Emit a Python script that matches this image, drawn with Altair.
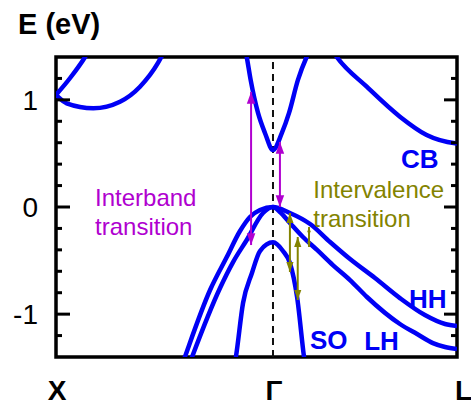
import altair as alt
import pandas as pd

# Band structure along X - Γ - L.  k in units of 2π/a (X = -1, Γ = 0, L = 0.848), E in eV.
cb_k = [-0.138, -0.121, -0.103, -0.069, -0.037, 0.0, 0.041, 0.074, 0.115, 0.155, 0.226, 0.294, 0.432, 0.585, 0.708, 0.839, 0.848]
cb_e = [1.56, 1.40, 1.186, 0.878, 0.691, 0.532, 0.691, 0.878, 1.186, 1.40, 1.62, 1.40, 1.123, 0.843, 0.672, 0.595, 0.593]

xv_up_k = [-1.0, -0.935, -0.866, -0.834]
xv_up_e = [1.046, 1.204, 1.40, 1.51]
xv_lo_k = [-1.0, -0.951, -0.828, -0.705, -0.613, -0.530, -0.498]
xv_lo_e = [1.046, 0.968, 0.922, 0.983, 1.123, 1.345, 1.466]

hh_k = [-0.424, -0.406, -0.290, -0.213, -0.152, -0.106, -0.060, 0.0, 0.078, 0.171, 0.263, 0.355, 0.470, 0.585, 0.700, 0.793, 0.848]
hh_e = [-1.503, -1.40, -0.775, -0.467, -0.224, -0.093, -0.028, 0.0, -0.056, -0.159, -0.327, -0.486, -0.663, -0.850, -1.008, -1.092, -1.111]

lh_k = [-0.392, -0.373, -0.244, -0.184, -0.121, -0.046, 0.0, 0.032, 0.078, 0.138, 0.203, 0.276, 0.355, 0.433, 0.585, 0.664, 0.737, 0.793, 0.848]
lh_e = [-1.503, -1.40, -0.756, -0.514, -0.308, -0.056, 0.0, -0.047, -0.149, -0.280, -0.401, -0.542, -0.682, -0.840, -1.092, -1.186, -1.270, -1.307, -1.326]

so_k = [-0.180, -0.171, -0.138, -0.097, -0.060, 0.0, 0.046, 0.078, 0.111, 0.143, 0.150]
so_e = [-1.503, -1.40, -0.896, -0.616, -0.411, -0.330, -0.411, -0.523, -0.840, -1.40, -1.503]

# Optical transitions (double-headed arrows): position k, upper and lower energy
inter_k = [-0.101, 0.032]
inter_top = [1.074, 0.607]
inter_bot = [-0.355, 0.0]

intra_k = [0.078, 0.114, 0.166]
intra_top = [-0.056, -0.280, -0.187]
intra_bot = [-0.607, -0.868, -0.373]

# Annotation text
note_text = ["Interband", "transition", "Intervalence", "transition"]
note_k = [-0.820, -0.820, 0.186, 0.186]
note_e = [0.009, -0.261, 0.084, -0.184]

band_names = ["CB", "HH", "LH", "SO"]
band_name_k = [0.590, 0.627, 0.420, 0.170]
band_name_e = [0.364, -0.943, -1.335, -1.326]

# Axis ticks and labels
tick_major = [-1.0, 0.0, 1.0]
tick_major_labels = ["-1", "0", "1"]
tick_minor = [-1.2, -0.8, -0.6, -0.4, -0.2, 0.2, 0.4, 0.6, 0.8, 1.2]
k_points = [-1.0, 0.0, 0.848]
k_point_labels = ["X", "Γ", "L"]

BLUE = "#0000F5"
PURPLE = "#B000D0"
OLIVE = "#838300"
FONT = "Liberation Sans"
W, H = 401, 300

xs = alt.Scale(domain=[-1.0, 0.848], nice=False, zero=False)
ys = alt.Scale(domain=[-1.4, 1.4], nice=False, zero=False)


def X(field):
    return alt.X(field, type="quantitative", scale=xs, axis=None)


def Y(field):
    return alt.Y(field, type="quantitative", scale=ys, axis=None)


def series(name, ks, es):
    return pd.DataFrame({"k": ks, "E": es, "band": name})


bands = pd.concat([
    series("CB", cb_k, cb_e),
    series("CBX1", xv_up_k, xv_up_e),
    series("CBX2", xv_lo_k, xv_lo_e),
    series("HH", hh_k, hh_e),
    series("LH", lh_k, lh_e),
    series("SO", so_k, so_e),
])

inter = pd.DataFrame({"k": inter_k, "top": inter_top, "bot": inter_bot})
intra = pd.DataFrame({"k": intra_k, "top": intra_top, "bot": intra_bot})
notes = pd.DataFrame({"k": note_k, "E": note_e, "text": note_text,
                      "grp": ["inter", "inter", "intra", "intra"]})
names = pd.DataFrame({"k": band_name_k, "E": band_name_e, "text": band_names})

# dashed line marking Γ
gamma = alt.Chart(pd.DataFrame({"k": [0.0], "lo": [-1.4], "hi": [1.4]})).mark_rule(
    color="#111", strokeWidth=2, strokeDash=[7, 5]
).encode(x=X("k"), y=Y("lo"), y2="hi:Q")

lines = alt.Chart(bands).mark_line(
    color=BLUE, strokeWidth=4.5, interpolate="monotone", clip=True
).encode(x=X("k"), y=Y("E"), detail="band:N")

UP = "M0,0 L0.36,1 L-0.36,1 Z"
DOWN = "M0,0 L0.36,-1 L-0.36,-1 Z"


def arrows(df, color, head_size, small_head):
    shaft = alt.Chart(df).mark_rule(color=color, strokeWidth=2).encode(
        x=X("k"), y=Y("top"), y2="bot:Q")
    size = alt.condition("datum.top - datum.bot < 0.3", alt.value(small_head), alt.value(head_size))
    up = alt.Chart(df).mark_point(shape=UP, filled=True, color=color, opacity=1, strokeWidth=0).encode(
        x=X("k"), y=Y("top"), size=size)
    down = alt.Chart(df).mark_point(shape=DOWN, filled=True, color=color, opacity=1, strokeWidth=0).encode(
        x=X("k"), y=Y("bot"), size=size)
    return shaft + up + down


inter_arrows = arrows(inter, PURPLE, 560, 560)
intra_arrows = arrows(intra, OLIVE, 400, 110)

note_marks = alt.Chart(notes).mark_text(
    align="left", baseline="alphabetic", font=FONT, fontSize=24
).encode(
    x=X("k"), y=Y("E"), text="text:N",
    color=alt.Color("grp:N", scale=alt.Scale(domain=["inter", "intra"], range=[PURPLE, OLIVE]), legend=None),
)

name_marks = alt.Chart(names).mark_text(
    align="left", baseline="alphabetic", font=FONT, fontSize=26, fontWeight="bold", color=BLUE
).encode(x=X("k"), y=Y("E"), text="text:N")

# inward ticks on the left and right frame
major = pd.DataFrame({"v": tick_major, "label": tick_major_labels})
minor = pd.DataFrame({"v": tick_minor})


def ticks(df, x0, x1):
    return alt.Chart(df).mark_rule(color="black", strokeWidth=3).encode(
        x=alt.value(x0), x2=alt.value(x1), y=Y("v"))


frame_ticks = (ticks(major, 0, 14) + ticks(minor, 0, 6)
               + ticks(major, W, W - 13) + ticks(minor, W, W - 6))

# energy tick labels
y_labels = alt.Chart(major).mark_text(
    align="right", baseline="alphabetic", dy=10, font=FONT, fontSize=28, color="black"
).encode(x=alt.value(-18), y=Y("v"), text="label:N")

# high-symmetry point labels
kp = pd.DataFrame({"k": k_points, "label": k_point_labels})
k_labels_c = alt.Chart(kp).transform_filter("datum.k < 0.5").mark_text(
    align="center", baseline="alphabetic", font=FONT, fontSize=28, fontWeight="bold", color="black",
    dx=1
).encode(x=X("k"), y=alt.value(H + 43), text="label:N")
k_labels_l = alt.Chart(kp).transform_filter("datum.k >= 0.5").mark_text(
    align="left", baseline="alphabetic", font=FONT, fontSize=28, fontWeight="bold", color="black",
    dx=-2
).encode(x=X("k"), y=alt.value(H + 43), text="label:N")

y_title = alt.Chart(pd.DataFrame({"t": ["E (eV)"]})).mark_text(
    align="left", baseline="alphabetic", font=FONT, fontSize=29, fontWeight="bold", color="black"
).encode(x=alt.value(-38), y=alt.value(-23), text="t:N")

chart = alt.layer(
    gamma, lines, inter_arrows, intra_arrows, note_marks, name_marks, frame_ticks,
    y_labels, k_labels_c, k_labels_l, y_title
).properties(
    width=W, height=H,
    background="white",
    autosize=alt.AutoSizeParams(type="none"),
    padding={"left": 56, "top": 57, "right": 14, "bottom": 49},
).configure_view(stroke="black", strokeWidth=3.5)

chart.save("out.html", embed_options={"renderer": "svg", "actions": False})
